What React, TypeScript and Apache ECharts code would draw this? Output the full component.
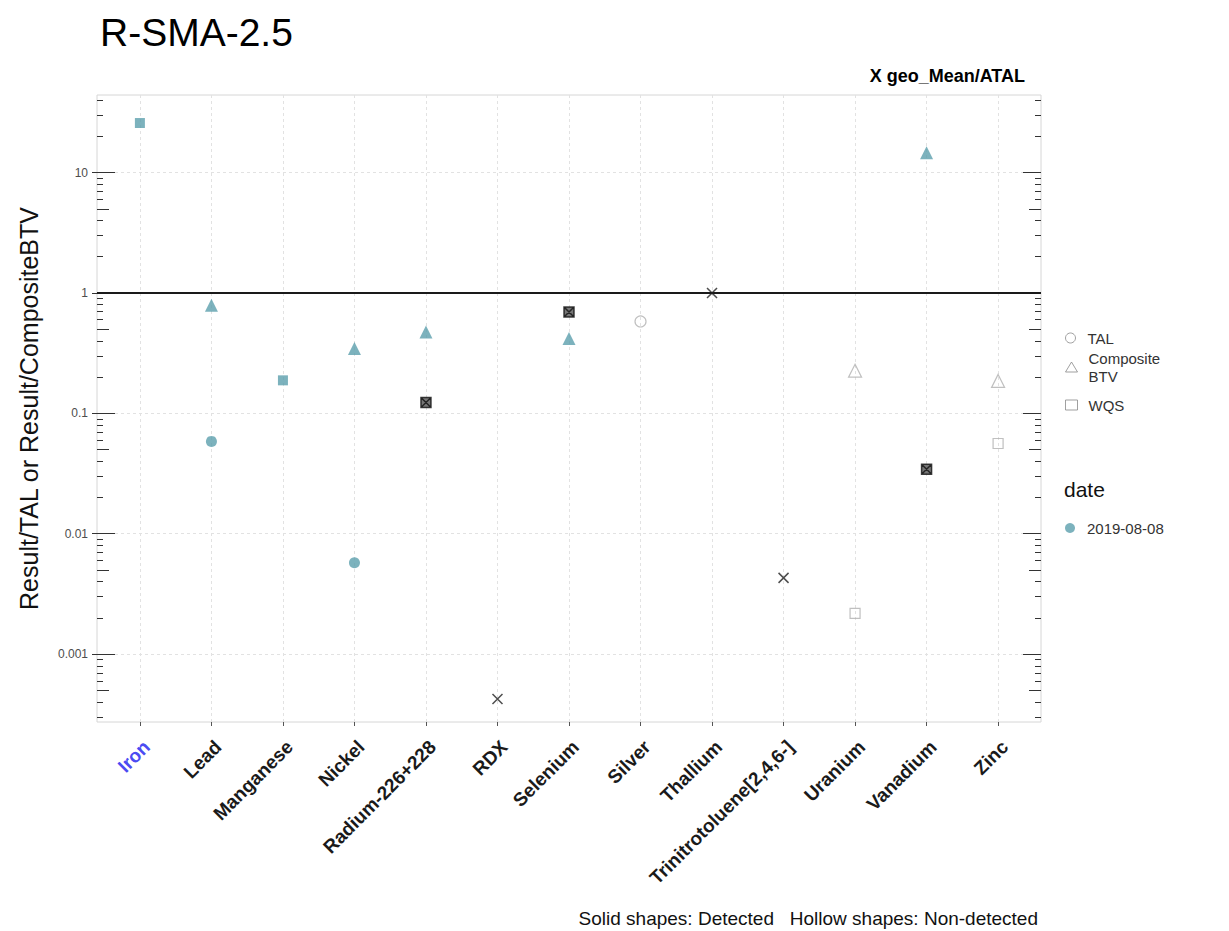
import React, { useEffect, useRef } from 'react';
import * as echarts from 'echarts';

// ---------- data ----------
const categories = [
  'Iron', 'Lead', 'Manganese', 'Nickel', 'Radium-226+228', 'RDX', 'Selenium',
  'Silver', 'Thallium', 'Trinitrotoluene[2,4,6-]', 'Uranium', 'Vanadium', 'Zinc',
];

const talCats = ['Lead', 'Nickel', 'Silver'];
const talValues = [0.0585, 0.00575, 0.58];
const talDetected = [true, true, false];

const btvCats = ['Lead', 'Nickel', 'Radium-226+228', 'Selenium', 'Uranium', 'Vanadium', 'Zinc'];
const btvValues = [0.79, 0.345, 0.475, 0.418, 0.226, 14.6, 0.186];
const btvDetected = [true, true, true, true, false, true, false];

const wqsCats = ['Iron', 'Manganese', 'Uranium', 'Zinc'];
const wqsValues = [25.8, 0.188, 0.00218, 0.0562];
const wqsDetected = [true, true, false, false];

const geoCats = ['Radium-226+228', 'RDX', 'Selenium', 'Thallium', 'Trinitrotoluene[2,4,6-]', 'Vanadium'];
const geoValues = [0.123, 0.000424, 0.696, 1.0, 0.0043, 0.0343];
const geoBoxed = [true, false, true, false, false, true];

const yTickValues = [0.001, 0.01, 0.1, 1, 10];
const yTickLabels = ['0.001', '0.01', '0.1', '1', '10'];
const yMin = 0.000273;
const yMax = 44.1;
const logDecades = [0.0001, 0.001, 0.01, 0.1, 1, 10];
const shortMultiples = [2, 3, 4, 6, 7, 8, 9];
const midMultiples = [5];
const refLineValue = 1;
const dateName = '2019-08-08';

// ---------- styles ----------
const font = '"Liberation Sans", Arial, Helvetica, sans-serif';
const teal = '#5b9fad';
const hollowColor = '#b0b0b0';
const tickColor = '#333333';
const xSymbol = 'path://M0,0L10,10M0,10L10,0';
const xBoxSymbol = 'path://M0,0L10,0L10,10L0,10Z M0,0L10,10M0,10L10,0';

const xIdx = categories.map((_, i) => i);
const decadeTicks = logDecades;
const midTicks = logDecades.flatMap((d) => midMultiples.map((m) => d * m));
const shortTicks = logDecades.flatMap((d) => shortMultiples.map((m) => d * m));

function pointItems(cats: string[], vals: number[], det: boolean[]) {
  return cats.map((c, i) => ({
    value: [categories.indexOf(c), vals[i]],
    itemStyle: det[i]
      ? { color: teal, borderWidth: 0 }
      : { color: 'rgba(255,255,255,0)', borderColor: hollowColor, borderWidth: 1.2 },
  }));
}

function logTickAxis(position: 'left' | 'right', values: number[], length: number) {
  return {
    type: 'log',
    logBase: 10,
    min: yMin,
    max: yMax,
    position,
    axisLine: { show: false, onZero: false },
    axisLabel: { show: false },
    splitLine: { show: false },
    axisTick: {
      show: true,
      inside: true,
      length,
      customValues: values,
      lineStyle: { color: tickColor, width: 1 },
    },
  };
}

function yLabel(v: number) {
  const i = yTickValues.findIndex((t) => Math.abs(Math.log10(t) - Math.log10(v)) < 1e-6);
  return i >= 0 ? yTickLabels[i] : '';
}

const legendBase = {
  orient: 'vertical',
  padding: 0,
  itemWidth: 12,
  itemHeight: 10,
  selectedMode: false,
  left: 1065,
  textStyle: { fontSize: 15, color: '#333', fontFamily: font, lineHeight: 18, padding: [0, 0, 0, 6] },
};

const hollowLegend = { color: 'rgba(255,255,255,0)', borderColor: '#888', borderWidth: 1 };

const option: any = {
  animation: false,
  backgroundColor: '#ffffff',
  textStyle: { fontFamily: font },
  title: [
    {
      text: 'R-SMA-2.5',
      left: 95,
      top: 8,
      textStyle: { fontSize: 39, fontWeight: 'normal', color: '#000', fontFamily: font },
    },
    {
      text: 'X geo_Mean/ATAL',
      right: 199,
      top: 62,
      textStyle: { fontSize: 18, fontWeight: 'bold', color: '#000', fontFamily: font },
    },
    {
      text: 'date',
      left: 1059,
      top: 474,
      textStyle: { fontSize: 21, fontWeight: 'normal', color: '#111', fontFamily: font },
    },
    {
      text: 'Solid shapes: Detected   Hollow shapes: Non-detected',
      right: 186,
      top: 904,
      textStyle: { fontSize: 19, fontWeight: 'normal', color: '#111', fontFamily: font },
    },
  ],
  legend: [
    {
      ...legendBase,
      top: 329,
      data: [{ name: 'TAL', icon: 'circle', itemStyle: hollowLegend }],
    },
    {
      ...legendBase,
      top: 349,
      formatter: () => 'Composite\nBTV',
      data: [{ name: 'Composite BTV', icon: 'triangle', itemStyle: hollowLegend }],
    },
    {
      ...legendBase,
      top: 396,
      data: [{ name: 'WQS', icon: 'rect', itemStyle: hollowLegend }],
    },
    {
      ...legendBase,
      top: 519,
      data: [{ name: dateName, icon: 'circle', itemStyle: { color: teal } }],
    },
  ],
  grid: {
    left: 97,
    top: 95,
    width: 944,
    height: 627,
    show: true,
    backgroundColor: '#ffffff',
    borderColor: '#d6d6d6',
    borderWidth: 1,
    containLabel: false,
  },
  xAxis: {
    type: 'value',
    min: -0.6,
    max: 12.6,
    minInterval: 1,
    maxInterval: 1,
    axisLine: { show: false, onZero: false },
    axisTick: { show: true, customValues: xIdx, length: 4, lineStyle: { color: '#555' } },
    axisLabel: {
      customValues: xIdx,
      showMinLabel: true,
      showMaxLabel: true,
      rotate: 45,
      align: 'right',
      verticalAlign: 'top',
      margin: 15,
      fontSize: 19,
      fontWeight: 'bold',
      color: '#1a1a1a',
      fontFamily: font,
      formatter: (v: number) => {
        const i = Math.round(v);
        return i === 0 ? '{iron|' + categories[0] + '}' : categories[i] ?? '';
      },
      rich: {
        iron: { color: '#4b4bf2', fontWeight: 'bold', fontSize: 19, fontFamily: font },
      },
    },
    splitLine: { show: true, lineStyle: { color: '#e2e2e2', type: [3, 3], width: 1 } },
  },
  yAxis: [
    {
      type: 'log',
      logBase: 10,
      min: yMin,
      max: yMax,
      position: 'left',
      name: 'Result/TAL or Result/CompositeBTV',
      nameLocation: 'middle',
      nameRotate: 90,
      nameGap: 56,
      nameTextStyle: { fontSize: 25, color: '#111', fontFamily: font },
      axisLine: { show: false, onZero: false },
      axisTick: { show: true, inside: false, length: 5, customValues: yTickValues, lineStyle: { color: tickColor } },
      axisLabel: {
        show: true,
        customValues: yTickValues,
        formatter: yLabel,
        fontSize: 12,
        color: '#4d4d4d',
        margin: 9,
        fontFamily: font,
      },
      splitLine: { show: true, lineStyle: { color: '#e2e2e2', type: [3, 3], width: 1 } },
    },
    logTickAxis('left', decadeTicks, 18),
    logTickAxis('left', midTicks, 12),
    logTickAxis('left', shortTicks, 6),
    logTickAxis('right', decadeTicks, 18),
    logTickAxis('right', midTicks, 12),
    logTickAxis('right', shortTicks, 6),
  ],
  series: [
    {
      name: 'TAL',
      type: 'scatter',
      yAxisIndex: 0,
      symbol: 'circle',
      symbolSize: 11,
      itemStyle: { color: teal },
      data: pointItems(talCats, talValues, talDetected),
      z: 3,
      markLine: {
        silent: true,
        symbol: 'none',
        label: { show: false },
        lineStyle: { color: '#1a1a1a', width: 2, type: 'solid' },
        data: [{ yAxis: refLineValue }],
        z: 2,
      },
    },
    {
      name: 'Composite BTV',
      type: 'scatter',
      yAxisIndex: 0,
      symbol: 'triangle',
      symbolSize: 13,
      itemStyle: { color: teal },
      data: pointItems(btvCats, btvValues, btvDetected),
      z: 3,
    },
    {
      name: 'WQS',
      type: 'scatter',
      yAxisIndex: 0,
      symbol: 'rect',
      symbolSize: 10,
      itemStyle: { color: teal },
      data: pointItems(wqsCats, wqsValues, wqsDetected),
      z: 3,
    },
    {
      name: 'X geo_Mean/ATAL',
      type: 'scatter',
      yAxisIndex: 0,
      symbolSize: 10,
      z: 5,
      data: geoCats.map((c, i) => ({
        value: [categories.indexOf(c), geoValues[i]],
        symbol: geoBoxed[i] ? xBoxSymbol : xSymbol,
        itemStyle: geoBoxed[i]
          ? { color: '#555555', borderColor: '#111111', borderWidth: 1.5 }
          : { color: 'rgba(0,0,0,0)', borderColor: '#222222', borderWidth: 1.5 },
      })),
    },
    {
      name: dateName,
      type: 'scatter',
      yAxisIndex: 0,
      symbol: 'circle',
      itemStyle: { color: teal },
      data: [],
    },
  ],
};

export default function App() {
  const ref = useRef<HTMLDivElement>(null);
  useEffect(() => {
    if (!ref.current) return;
    const chart = echarts.init(ref.current, null, { renderer: 'svg' });
    chart.setOption(option);
    return () => chart.dispose();
  }, []);
  return (
    <div
      ref={ref}
      style={{ position: 'fixed', left: 0, top: 0, width: 1229, height: 931, background: '#fff' }}
    />
  );
}
